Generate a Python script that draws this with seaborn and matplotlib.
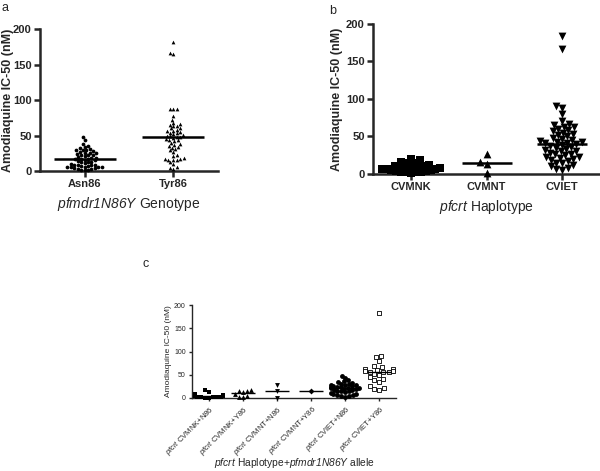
import numpy as np
import pandas as pd
import matplotlib
matplotlib.use('Agg')
import matplotlib.pyplot as plt
import seaborn as sns

# Panel a: pfmdr1 N86Y genotype
geno_a = ['Asn86', 'Tyr86']
asn86 = [48, 44, 38, 35, 34, 32, 31, 30, 30, 29, 28, 27, 26, 26, 25, 24, 23, 22, 22, 21,
         20, 19, 18, 17, 17, 17, 16, 15, 14, 13, 12, 12, 11, 10, 9, 9, 8, 8, 7, 7,
         6, 6, 5, 5, 5, 4, 4, 3, 3, 2, 2, 1]
tyr86 = [182, 166, 165, 88, 88, 87, 78, 72, 68, 66, 65, 64, 63, 61, 60, 58, 57, 56, 55, 54,
         53, 52, 51, 50, 49, 48, 48, 47, 45, 44, 43, 42, 40, 38, 37, 35, 34, 33, 31, 29,
         27, 22, 21, 18, 17, 17, 16, 16, 15, 12, 10, 5, 4, 3]

# Panel b: pfcrt haplotype
hap_b = ['CVMNK', 'CVMNT', 'CVIET']
cvmnk = [20, 18, 16, 15, 14, 13, 12, 11, 10, 9, 9, 8, 8, 8, 7, 7, 6, 6, 5, 5, 4, 4, 3, 3, 2, 2, 1]
cvmnt = [26, 16, 13, 1]
cviet = [184, 167, 90, 88, 80, 70, 67, 65, 63, 62, 60, 58, 57, 55, 53, 52, 50, 48, 47, 45,
         44, 43, 42, 41, 41, 40, 38, 37, 36, 35, 33, 32, 31, 30, 28, 27, 26, 25, 23, 22,
         21, 20, 18, 17, 15, 14, 12, 10, 8, 7, 5]

# Panel c: haplotype + allele
combo_c = ['CVMNK+N86', 'CVMNK+Y86', 'CVMNT+N86', 'CVMNT+Y86', 'CVIET+N86', 'CVIET+Y86']
c_mnk_n = [17, 13, 8, 7, 6, 6, 5, 5, 5, 5, 4, 4, 4, 3, 3, 3, 2, 2, 1, 1]
c_mnk_y = [18, 15, 14, 12, 9, 5, 3, 2]
c_mnt_n = [27, 15, 1]
c_mnt_y = [16]
c_iet_n = [48, 44, 38, 36, 35, 33, 31, 30, 29, 28, 27, 26, 25, 24, 23, 23, 22, 22, 21, 20,
           19, 18, 17, 16, 15, 14, 12, 10, 9, 8, 7, 6, 5, 4, 3]
c_iet_y = [184, 90, 88, 80, 68, 66, 63, 62, 60, 59, 58, 57, 56, 55, 52, 50, 45, 40, 38, 35,
           25, 22, 20, 18]

sns.set_style('ticks')
plt.rcParams['font.family'] = ['Liberation Sans', 'DejaVu Sans']
# all mathtext is used only for the italic gene names
plt.rcParams['mathtext.fontset'] = 'custom'
plt.rcParams['mathtext.rm'] = 'Liberation Sans:italic'
plt.rcParams['mathtext.it'] = 'Liberation Sans:italic'


def dot_panel(ax, order, groups, styles, half_w, lw, tick_fs, bold):
    # one swarm per group so each keeps its own marker
    # style = (marker, face colour, edge width, swarm layout size)
    for name, vals, st in zip(order, groups, styles):
        df = pd.DataFrame({'grp': name, 'val': vals})
        sns.swarmplot(data=df, x='grp', y='val', order=order, ax=ax, size=st[3],
                      marker=st[0], color=st[1], edgecolor='black', linewidth=st[2],
                      warn_thresh=1)
    for coll in ax.collections:
        coll.set_clip_on(False)
    meds = [np.median(v) for v in groups]
    ax.hlines(meds, np.arange(len(order)) - half_w, np.arange(len(order)) + half_w,
              color='black', lw=lw, zorder=5)
    ax.set_xlim(-0.5, len(order) - 0.5)
    ax.set_ylim(0, 200)
    ax.set_yticks([0, 50, 100, 150, 200])
    sns.despine(ax=ax)
    for s in ['left', 'bottom']:
        ax.spines[s].set_linewidth(lw)
    ax.tick_params(width=lw, length=4 if bold else 2.5, labelsize=tick_fs, pad=2)
    if bold:
        for t in ax.get_xticklabels() + ax.get_yticklabels():
            t.set_fontweight('bold')


def set_marker_size(ax, size):
    # swarm layout is already fixed; draw markers bigger so they overlap like the original
    for coll in ax.collections:
        if 'draw' in coll.__dict__:
            del coll.draw
            coll.set_sizes([size ** 2])


fig = plt.figure(figsize=(6, 4.71), dpi=100)

# a
ax_a = fig.add_axes([0.067, 0.637, 0.296, 0.301])
dot_panel(ax_a, geno_a, [asn86, tyr86], [('o', 'black', 0, 2.4), ('^', 'black', 0, 2.4)],
          0.35, 1.8, 8, True)
ax_a.set_ylabel('Amodiaquine IC-50 (nM)', fontsize=9, fontweight='bold')
ax_a.yaxis.set_label_coords(-0.145, 0.5)
ax_a.set_xlabel(r'$pfmdr1N86Y$ Genotype', fontsize=10, labelpad=4)

# b
ax_b = fig.add_axes([0.622, 0.631, 0.378, 0.318])
dot_panel(ax_b, hap_b, [cvmnk, cvmnt, cviet],
          [('s', 'black', 0, 3.4), ('^', 'black', 0, 4.5), ('v', 'black', 0, 4.1)],
          0.33, 1.8, 8, True)
ax_b.set_ylabel('Amodiaquine IC-50 (nM)', fontsize=9, fontweight='bold')
ax_b.yaxis.set_label_coords(-0.132, 0.5)
ax_b.set_xlabel(r'$pfcrt$ Haplotype', fontsize=10, labelpad=4)

# c
ax_c = fig.add_axes([0.32, 0.155, 0.34, 0.197])
dot_panel(ax_c, combo_c, [c_mnk_n, c_mnk_y, c_mnt_n, c_mnt_y, c_iet_n, c_iet_y],
          [('s', 'black', 0, 2.8), ('^', 'black', 0, 3.0), ('v', 'black', 0, 3.0),
           ('D', 'black', 0, 3.0), ('o', 'black', 0, 2.7), ('s', 'white', 0.6, 2.9)],
          0.35, 1.0, 5, False)
ax_c.set_xticks(range(len(combo_c)))
ax_c.set_xticklabels([r'$pfcrt$ ' + c for c in combo_c], rotation=45,
                     ha='right', rotation_mode='anchor', fontsize=5.5)
ax_c.set_ylabel('Amodiaquine IC-50 (nM)', fontsize=6)
ax_c.yaxis.set_label_coords(-0.098, 0.5)
ax_c.set_xlabel(r'$pfcrt$ Haplotype+$pfmdr1N86Y$ allele', fontsize=7.4)
ax_c.xaxis.set_label_coords(0.5, -0.62)

fig.text(0.003, 0.995, 'a', fontsize=9, va='top')
fig.text(0.548, 0.99, 'b', fontsize=9, va='top')
fig.text(0.237, 0.453, 'c', fontsize=9, va='top')

fig.canvas.draw()
set_marker_size(ax_a, 2.7)
set_marker_size(ax_b, 5.6)
set_marker_size(ax_c, 3.5)

fig.savefig('out.png', dpi=100)
